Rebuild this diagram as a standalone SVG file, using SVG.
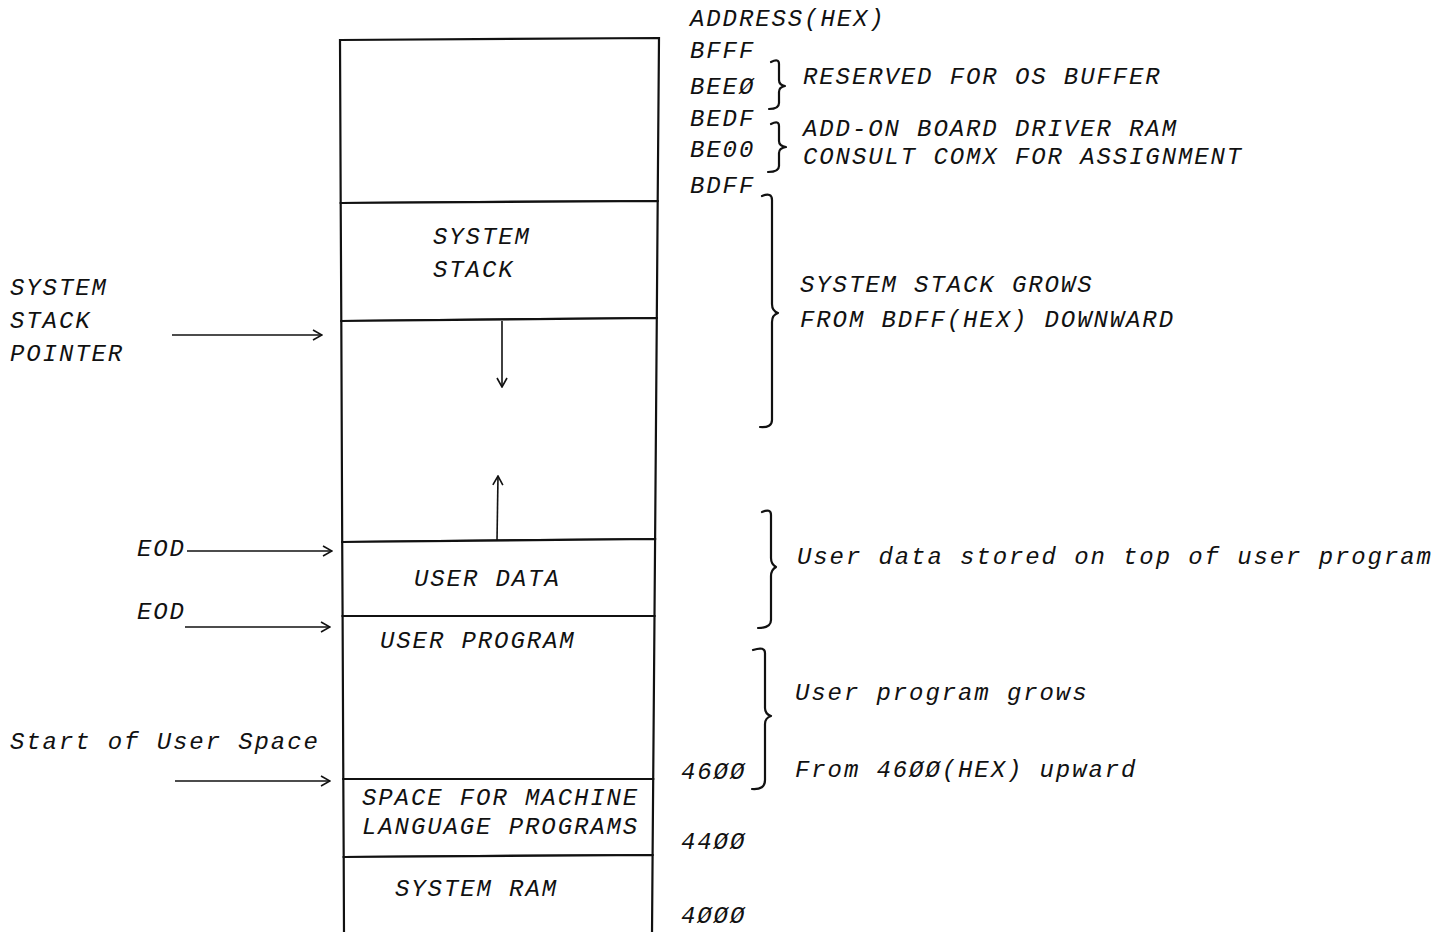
<svg xmlns="http://www.w3.org/2000/svg" width="1454" height="932" viewBox="0 0 1454 932">
<defs>
<style>
text{font-family:"Liberation Mono","DejaVu Sans Mono",monospace;font-style:italic;font-size:24px;letter-spacing:1.9px;fill:#111}
.reg{fill:#fff;stroke:#111;stroke-width:2.2}
.arr{fill:none;stroke:#111;stroke-width:1.6;marker-end:url(#ah)}
.brace{fill:none;stroke:#111;stroke-width:2.2;stroke-linecap:round;stroke-linejoin:round}
</style>
<marker id="ah" viewBox="0 0 12 12" refX="11" refY="6" markerWidth="12" markerHeight="12" markerUnits="userSpaceOnUse" orient="auto">
<path d="M2,1 L11,6 L2,11" fill="none" stroke="#111" stroke-width="1.6"/>
</marker>
</defs>
<rect width="1454" height="932" fill="#fff"/>

<g id="memory-map">
<g id="os-area"><polygon class="reg" points="340,40 659,38 657.7,201 340.7,203"/></g>
<g id="system-stack"><polygon class="reg" points="340.7,203 657.7,201 656.8,318 341.3,321"/>
<text x="433" y="244">SYSTEM</text><text x="433" y="277">STACK</text></g>
<g id="free-space"><polygon class="reg" points="341.3,321 656.8,318 655.1,539 342.2,542"/></g>
<g id="user-data"><polygon class="reg" points="342.2,542 655.1,539 654.5,616 342.6,616"/>
<text x="414" y="586">USER DATA</text></g>
<g id="user-program"><polygon class="reg" points="342.6,616 654.5,616 653.2,779 343.3,779"/>
<text x="380" y="648">USER PROGRAM</text></g>
<g id="machine-language"><polygon class="reg" points="343.3,779 653.2,779 652.6,855 343.7,857"/>
<text x="362" y="805">SPACE FOR MACHINE</text><text x="362" y="834">LANGUAGE PROGRAMS</text></g>
<g id="system-ram"><polygon class="reg" points="343.7,857 652.6,855 652,934 344,934"/>
<text x="395" y="896">SYSTEM RAM</text></g>
</g>

<g id="addresses">
<text x="690" y="26">ADDRESS(HEX)</text>
<text x="690" y="58">BFFF</text>
<text x="690" y="94">BEEØ</text>
<text x="690" y="126">BEDF</text>
<text x="690" y="157">BE00</text>
<text x="690" y="193">BDFF</text>
<text x="681" y="779">46ØØ</text>
<text x="681" y="849">44ØØ</text>
<text x="681" y="923">4ØØØ</text>
</g>

<g id="annotations">
<text x="803" y="84">RESERVED FOR OS BUFFER</text>
<text x="803" y="136">ADD-ON BOARD DRIVER RAM</text>
<text x="803" y="164">CONSULT COMX FOR ASSIGNMENT</text>
<text x="800" y="292">SYSTEM STACK GROWS</text>
<text x="800" y="327">FROM BDFF(HEX) DOWNWARD</text>
<text x="797" y="564">User data stored on top of user program</text>
<text x="795" y="700">User program grows</text>
<text x="795" y="777">From 46ØØ(HEX) upward</text>
</g>

<g id="pointer-labels">
<text x="10" y="295">SYSTEM</text>
<text x="10" y="328">STACK</text>
<text x="10" y="361">POINTER</text>
<text x="137" y="556">EOD</text>
<text x="137" y="619">EOD</text>
<text x="10" y="749">Start of User Space</text>
</g>

<g id="connectors">
<line class="arr" x1="172" y1="335" x2="322" y2="335"/>
<line class="arr" x1="187" y1="551" x2="332" y2="551"/>
<line class="arr" x1="185" y1="627" x2="330" y2="627"/>
<line class="arr" x1="175" y1="781" x2="330" y2="781"/>
<line class="arr" x1="502" y1="321" x2="502" y2="387"/>
<line class="arr" x1="497" y1="541" x2="498" y2="476"/>
</g>

<g id="braces">
<path class="brace" d="M771,62 Q779,58 779,64 L779,80 Q779,85 785,86 Q779,87 779,92 L779,103 Q779,109 769,109"/>
<path class="brace" d="M771,124 Q779,120 779,126 L779,141 Q779,146 786,147 Q779,148 779,153 L779,166 Q779,172 768,172"/>
<path class="brace" d="M762,196 Q772,192 772,200 L772,304 Q772,311 778,313 Q772,315 772,322 L772,420 Q772,428 760,427"/>
<path class="brace" d="M762,512 Q771,508 771,515 L771,558 Q771,564 776,567 Q771,570 771,576 L771,620 Q771,628 758,628"/>
<path class="brace" d="M753,650 Q765,646 765,653 L765,708 Q765,714 771,716 Q765,718 765,724 L765,780 Q765,790 752,789"/>
</g>
</svg>
